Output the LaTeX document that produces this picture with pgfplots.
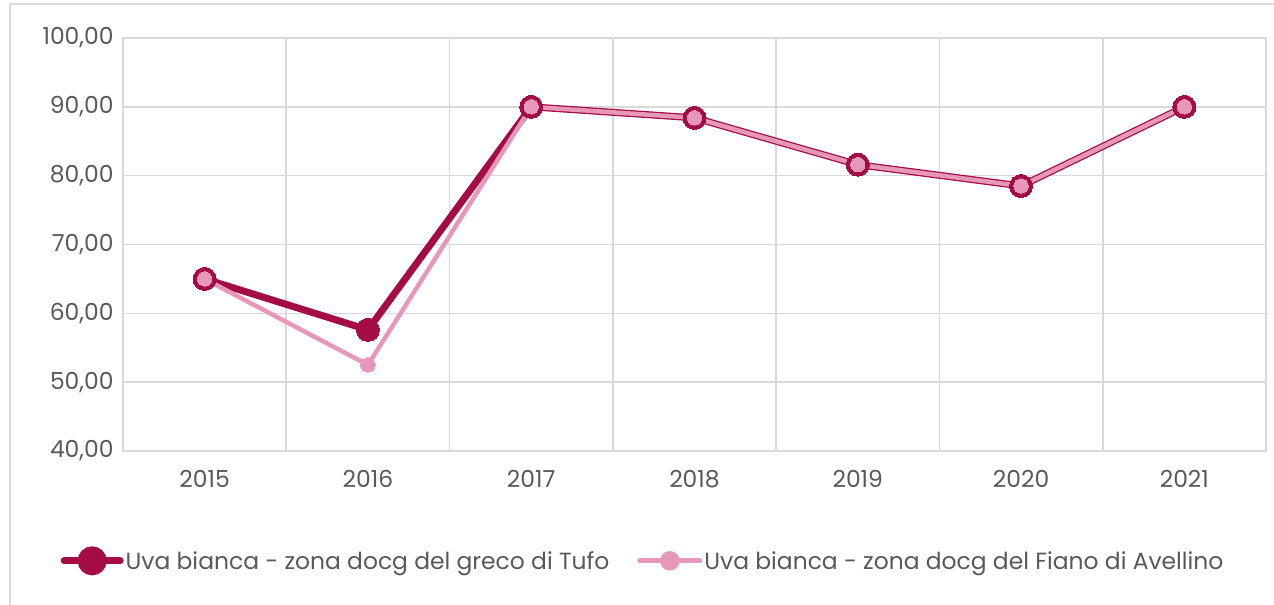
\documentclass[border=0pt]{standalone}
\usepackage{fontspec}
\setmainfont{Poppins}
\usepackage{pgfplots}
\pgfplotsset{compat=1.18}
\definecolor{dark}{HTML}{A50C45}
\definecolor{pinkc}{HTML}{E797B9}
\definecolor{gridc}{HTML}{D9D9D9}
\definecolor{txt}{HTML}{595959}
\begin{document}
\begin{tikzpicture}[x=1bp,y=1bp]
\useasboundingbox (0,0) rectangle (1274,605);
\draw[gridc, line width=1.5bp] (10,0) -- (10,601) -- (1274,601);
\begin{axis}[
  at={(123bp,154bp)}, anchor=south west,
  scale only axis, width=1143bp, height=413bp,
  xmin=-0.5, xmax=6.5, ymin=40, ymax=100,
  xtick={0,...,6}, xticklabels={2015,2016,2017,2018,2019,2020,2021},
  minor xtick={0.5,1.5,...,5.5},
  ytick={40,50,...,100},
  xmajorgrids=false, xminorgrids=true, ymajorgrids=true,
  grid style={gridc, line width=1.6bp},
  minor grid style={gridc, line width=1.6bp},
  axis line style={gridc, line width=1.6bp},
  major tick length=0pt, minor tick length=0pt,
  tick style={draw=none},
  ticklabel style={font=\fontsize{23.5}{27}\selectfont, text=txt},
  yticklabel style={/pgf/number format/.cd, fixed, fixed zerofill, precision=2, use comma, 1000 sep={}, assume math mode=true},
  xticklabel style={/pgf/number format/assume math mode=true},
  xtick pos=bottom, ytick pos=left,
  xticklabel shift=16bp, yticklabel shift=6bp,
  legend columns=2,
  legend style={at={(axis description cs:0.455,-0.266)}, anchor=center, draw=none, fill=none,
     font=\fontsize{23.5}{27}\selectfont, text=txt,
     /tikz/every even column/.append style={column sep=26bp}},
  legend cell align=left,
]
\addplot[dark, line width=7bp, mark=*, mark size=11.5bp, mark options={fill=dark, draw=dark, line width=0bp},
  legend image code/.code={
    \draw[dark, line width=7bp, line cap=round] (0bp,0bp) -- (56bp,0bp);
    \fill[dark] (28bp,0bp) circle (11bp);
  }]
  coordinates {(0,65.0) (1,57.6) (2,90.0) (3,88.4) (4,81.6) (5,78.5) (6,90.0)};
\addlegendentry{Uva bianca - zona docg del greco di Tufo}
\addplot[pinkc, line width=4.5bp, mark=*, mark size=7.2bp, mark options={fill=pinkc, draw=pinkc, line width=0bp},
  legend image code/.code={
    \draw[pinkc, line width=5bp, line cap=round] (0bp,0bp) -- (60bp,0bp);
    \fill[pinkc] (30bp,0bp) circle (7.5bp);
  }]
  coordinates {(0,65.0) (1,52.5) (2,90.0) (3,88.4) (4,81.6) (5,78.5) (6,90.0)};
\addlegendentry{Uva bianca - zona docg del Fiano di Avellino}
\end{axis}
\end{tikzpicture}
\end{document}
